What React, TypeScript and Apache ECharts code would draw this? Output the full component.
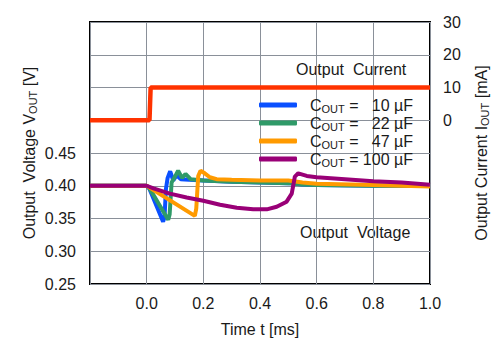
import React, { useEffect, useRef } from 'react';
import * as echarts from 'echarts';

// Output current step (mA)
const currentT = [-0.2, 0.01, 0.014, 1.0];
const currentI = [0, 0, 10, 10];

// Output voltage (V) for each output capacitor
const blueT = [-0.2, 0, 0.01, 0.058, 0.063, 0.068, 0.074, 0.083, 0.094, 0.106, 0.12, 0.15, 0.2, 0.3, 0.4, 0.5, 0.55, 0.6, 0.8, 1.0];
const blueV = [0.4, 0.4, 0.395, 0.345, 0.352, 0.395, 0.412, 0.422, 0.408, 0.416, 0.41, 0.409, 0.408, 0.406, 0.405, 0.404, 0.402, 0.401, 0.4, 0.4];

const greenT = [-0.2, 0, 0.01, 0.076, 0.081, 0.088, 0.1, 0.111, 0.125, 0.137, 0.155, 0.2, 0.3, 0.4, 0.5, 0.55, 0.6, 0.8, 1.0];
const greenV = [0.4, 0.4, 0.396, 0.348, 0.356, 0.405, 0.414, 0.423, 0.412, 0.418, 0.41, 0.408, 0.406, 0.405, 0.404, 0.402, 0.401, 0.4, 0.4];

const orangeT = [-0.2, 0, 0.17, 0.175, 0.182, 0.19, 0.205, 0.223, 0.247, 0.3, 0.4, 0.5, 0.55, 0.6, 0.8, 1.0];
const orangeV = [0.4, 0.4, 0.354, 0.365, 0.415, 0.423, 0.419, 0.413, 0.41, 0.409, 0.408, 0.408, 0.405, 0.403, 0.401, 0.399];

const purpleT = [-0.2, 0, 0.024, 0.082, 0.141, 0.2, 0.259, 0.318, 0.376, 0.424, 0.459, 0.494, 0.512, 0.523, 0.535, 0.565, 0.6, 0.7, 0.8, 0.9, 1.0];
const purpleV = [0.4, 0.4, 0.396, 0.388, 0.382, 0.377, 0.371, 0.3665, 0.364, 0.364, 0.368, 0.3757, 0.388, 0.414, 0.419, 0.415, 0.413, 0.41, 0.407, 0.405, 0.4015];

const capNames = ['10 µF', '22 µF', '47 µF', '100 µF'];
const capColors = ['#0a50ff', '#2f9a68', '#ff9a00', '#990077'];

const zip = (t: number[], v: number[]) => t.map((x, i) => [x, v[i]]);

const FONT = '"Liberation Sans", Arial, sans-serif';
const TXT = '#1a1a1a';
const SUB = { fontSize: 11, fontFamily: FONT, color: TXT, lineHeight: 8, verticalAlign: 'bottom' };

export default function App() {
  const ref = useRef<HTMLDivElement>(null);
  useEffect(() => {
    if (!ref.current) return;
    const chart = echarts.init(ref.current, null, { renderer: 'svg' });
    const volt = [zip(blueT, blueV), zip(greenT, greenV), zip(orangeT, orangeV), zip(purpleT, purpleV)];
    const series: any[] = [
      {
        name: 'Output Current',
        type: 'line',
        yAxisIndex: 1,
        data: zip(currentT, currentI),
        showSymbol: false,
        symbol: 'none',
        lineStyle: { color: '#ff3300', width: 4.5 },
        itemStyle: { color: '#ff3300' },
      },
      ...capNames.map((n, i) => ({
        name: n,
        type: 'line',
        yAxisIndex: 0,
        data: volt[i],
        showSymbol: false,
        symbol: 'none',
        lineStyle: { color: capColors[i], width: 4 },
        itemStyle: { color: capColors[i] },
      })),
    ];
    chart.setOption({
      animation: false,
      backgroundColor: '#fff',
      textStyle: { fontFamily: FONT },
      grid: { left: 90, right: 70, top: 22, bottom: 71, show: true, borderColor: '#000', borderWidth: 2, backgroundColor: 'transparent' },
      legend: {
        data: capNames,
        orient: 'vertical',
        left: 254,
        top: 92,
        itemGap: 1,
        itemWidth: 38,
        itemHeight: 5,
        icon: 'roundRect',
        formatter: (name: string) => `{c|C}{s|OUT}{e| = }{v|${name}}`,
        textStyle: {
          fontFamily: FONT,
          fontSize: 16,
          color: TXT,
          padding: [0, 0, 0, 8],
          rich: {
            c: { fontSize: 16, fontFamily: FONT, color: TXT, lineHeight: 18 },
            s: SUB,
            e: { fontSize: 16, fontFamily: FONT, color: TXT, lineHeight: 18 },
            v: { fontSize: 16, fontFamily: FONT, color: TXT, lineHeight: 18, width: 50, align: 'right' },
          },
        },
      },
      xAxis: {
        type: 'value',
        min: -0.2,
        max: 1.0,
        interval: 0.2,
        name: 'Time t [ms]',
        nameLocation: 'middle',
        nameGap: 37,
        nameMoveOverlap: false,
        nameTextStyle: { fontFamily: FONT, fontSize: 16, color: TXT },
        axisLine: { show: false },
        axisTick: { show: false },
        axisLabel: {
          fontFamily: FONT,
          fontSize: 16,
          color: TXT,
          margin: 11,
          formatter: (v: number) => (v < -0.1 ? '' : v.toFixed(1)),
        },
        splitLine: { show: true, lineStyle: { color: '#8a9099', width: 1 } },
      },
      yAxis: [
        {
          type: 'value',
          min: 0.25,
          max: 0.65,
          interval: 0.05,
          name: 'Output  Voltage V{s|OUT} [V]',
          nameLocation: 'middle',
          nameRotate: 90,
          nameGap: 52,
          nameMoveOverlap: false,
          nameTextStyle: { fontFamily: FONT, fontSize: 16, color: TXT, lineHeight: 18, rich: { s: SUB } },
          axisLine: { show: false },
          axisTick: { show: false },
          axisLabel: {
            fontFamily: FONT,
            fontSize: 16,
            color: TXT,
            margin: 14,
            formatter: (v: number) => (v > 0.46 ? '' : v.toFixed(2)),
          },
          splitLine: { show: true, lineStyle: { color: '#8a9099', width: 1 } },
        },
        {
          type: 'value',
          min: -50,
          max: 30,
          interval: 10,
          name: 'Output Current I{s|OUT} [mA]',
          nameLocation: 'middle',
          nameRotate: 90,
          nameGap: 42,
          nameMoveOverlap: false,
          nameTextStyle: { fontFamily: FONT, fontSize: 16, color: TXT, lineHeight: 18, rich: { s: SUB } },
          axisLine: { show: false },
          axisTick: { show: false },
          axisLabel: {
            fontFamily: FONT,
            fontSize: 16,
            color: TXT,
            margin: 13,
            formatter: (v: number) => (v < 0 ? '' : String(v)),
          },
          splitLine: { show: false },
        },
      ],
      graphic: [
        { type: 'text', left: 296, top: 61, style: { text: 'Output  Current', fontFamily: FONT, fontSize: 16, fill: TXT } },
        { type: 'text', left: 300, top: 224, style: { text: 'Output  Voltage', fontFamily: FONT, fontSize: 16, fill: TXT } },
      ],
      series,
    });
    return () => chart.dispose();
  }, []);
  return <div ref={ref} style={{ position: 'fixed', left: 0, top: 0, width: 500, height: 355 }} />;
}
